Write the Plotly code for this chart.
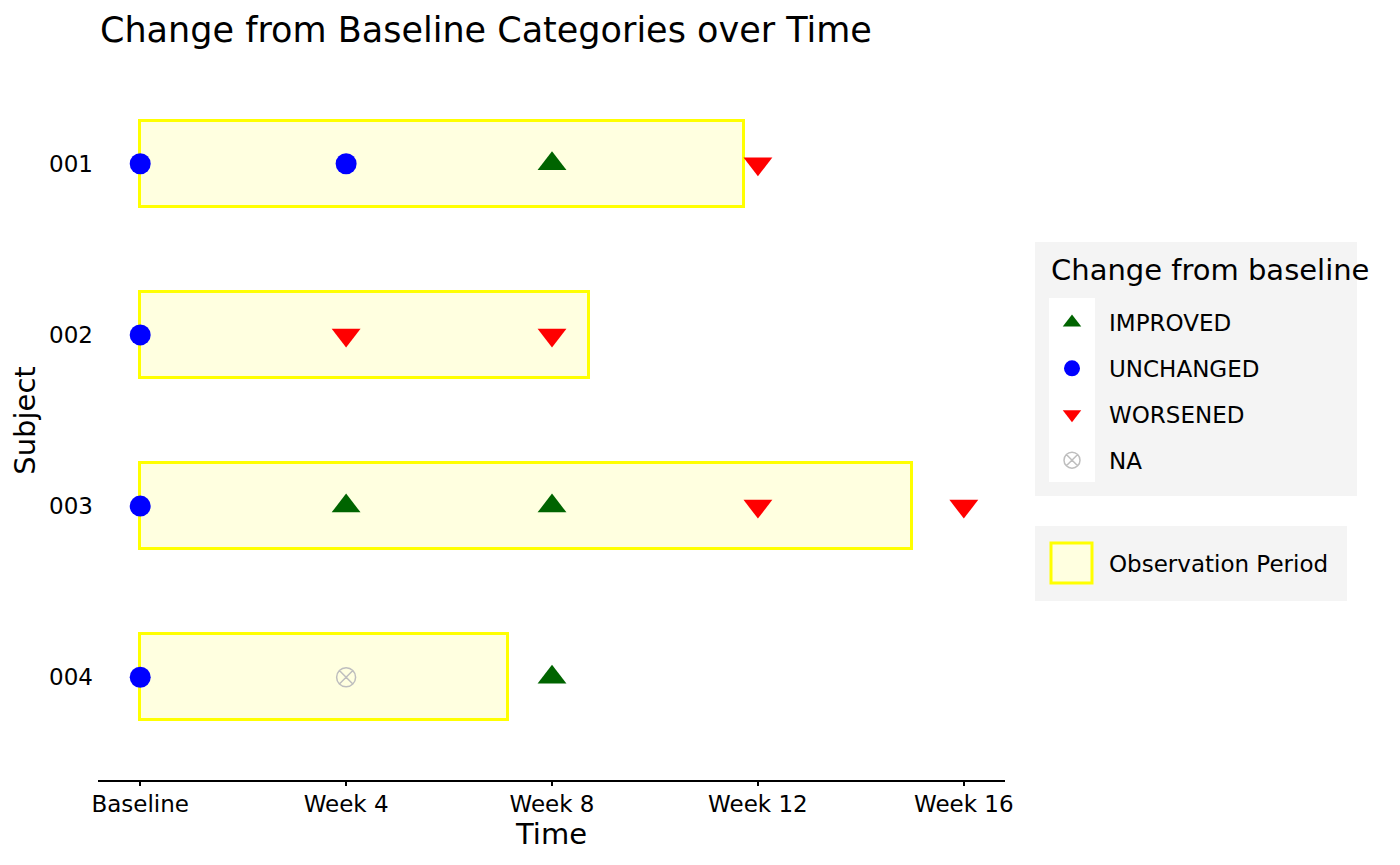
import plotly.graph_objects as go

subjects = ["001", "002", "003", "004"]
obs_end_weeks = [11.72, 8.72, 15.0, 7.15]

visit_labels = ["Baseline", "Week 4", "Week 8", "Week 12", "Week 16"]
visit_weeks = [0, 4, 8, 12, 16]

pt_subject = ["001", "001", "001", "001",
              "002", "002", "002",
              "003", "003", "003", "003", "003",
              "004", "004", "004"]
pt_week = [0, 4, 8, 12,
           0, 4, 8,
           0, 4, 8, 12, 16,
           0, 4, 8]
pt_category = ["UNCHANGED", "UNCHANGED", "IMPROVED", "WORSENED",
               "UNCHANGED", "WORSENED", "WORSENED",
               "UNCHANGED", "IMPROVED", "IMPROVED", "WORSENED", "WORSENED",
               "UNCHANGED", "NA", "IMPROVED"]

categories = ["IMPROVED", "UNCHANGED", "WORSENED", "NA"]
cat_color = {"IMPROVED": "#006400", "UNCHANGED": "#0000FF", "WORSENED": "#FF0000", "NA": "#BEBEBE"}
cat_symbol = {"IMPROVED": "triangle-up", "UNCHANGED": "circle", "WORSENED": "triangle-down", "NA": "circle-x-open"}
cat_size = {"IMPROVED": 25, "UNCHANGED": 21, "WORSENED": 25, "NA": 19}

sub_idx = {s: i for i, s in enumerate(subjects)}

# plot area in screen pixels (page has an 8px offset)
PX0, PX1, PY0, PY1 = 98, 1005, 61, 780


def px(x):
    return (x - PX0) / (PX1 - PX0)


def py(y):
    return (PY1 - y) / (PY1 - PY0)


fig = go.Figure()

fig.add_trace(go.Bar(
    x=obs_end_weeks, y=[sub_idx[s] for s in subjects], base=[0] * len(subjects),
    orientation="h", width=0.5,
    marker=dict(color="#FFFFE0", line=dict(color="#FFFF00", width=3)),
    name="Observation Period", showlegend=False,
))

for c in categories:
    xs = [w for w, cc in zip(pt_week, pt_category) if cc == c]
    ys = [sub_idx[s] for s, cc in zip(pt_subject, pt_category) if cc == c]
    mk = dict(color=cat_color[c], symbol=cat_symbol[c], size=cat_size[c])
    if c == "NA":
        mk["line"] = dict(color=cat_color[c], width=1.5)
    else:
        mk["line"] = dict(width=0)
    fig.add_trace(go.Scatter(
        x=xs, y=ys, mode="markers", marker=mk, name=c,
        legendgroup=c, legend="legend",
    ))

# legend entry for the observation period (key drawn as a larger box below)
fig.add_trace(go.Scatter(
    x=[None], y=[None], mode="markers", name="Observation Period", legend="legend2",
    marker=dict(symbol="square", size=16, color="rgba(0,0,0,0)", line=dict(width=0)),
))

shapes = [
    # legend backgrounds
    dict(type="rect", xref="paper", yref="paper", x0=px(1035), x1=px(1357), y0=py(496), y1=py(242),
         fillcolor="#F4F4F4", line=dict(width=0), layer="above"),
    dict(type="rect", xref="paper", yref="paper", x0=px(1049), x1=px(1095), y0=py(482), y1=py(298),
         fillcolor="white", line=dict(width=0), layer="above"),
    dict(type="rect", xref="paper", yref="paper", x0=px(1035), x1=px(1347), y0=py(601), y1=py(526),
         fillcolor="#F4F4F4", line=dict(width=0), layer="above"),
    dict(type="rect", xref="paper", yref="paper", x0=px(1051), x1=px(1092), y0=py(583), y1=py(543),
         fillcolor="#FFFFE0", line=dict(width=3, color="#FFFF00"), layer="above"),
]

fig.update_layout(
    width=1400, height=865,
    margin=dict(l=PX0 - 8, r=1400 - (PX1 - 8), t=PY0 - 8, b=865 - (PY1 - 8), autoexpand=False),
    plot_bgcolor="white", paper_bgcolor="white",
    font=dict(family="DejaVu Sans", color="black", size=23),
    title=dict(text="Change from Baseline Categories over Time", x=92 / 1400, xanchor="left",
               y=1 - 22 / 865, yanchor="middle", font=dict(size=35, color="black")),
    bargap=0,
    xaxis=dict(
        range=[-0.82, 16.8], tickvals=visit_weeks, ticktext=visit_labels,
        showgrid=False, zeroline=False, showline=True, linecolor="black", linewidth=2,
        ticks="outside", ticklen=4, tickcolor="black", tickwidth=2,
        tickfont=dict(size=23), ticklabelstandoff=-2, automargin=False,
        title=dict(text="Time", font=dict(size=29), standoff=1),
    ),
    yaxis=dict(
        range=[3.6, -0.6], tickvals=list(range(len(subjects))), ticktext=subjects,
        showgrid=False, zeroline=False, showline=False,
        ticks="", ticklabelstandoff=4, automargin=False,
        tickfont=dict(size=23),
        title=dict(text="Subject", font=dict(size=29), standoff=19),
    ),
    shapes=shapes,
    annotations=[dict(text="Change from baseline", xref="paper", yref="paper",
                      x=px(1049), y=py(270), xanchor="left", yanchor="middle",
                      showarrow=False, font=dict(size=29, color="black"))],
    legend=dict(
        x=px(1035), y=py(301), xanchor="left", yanchor="top",
        bgcolor="rgba(0,0,0,0)", font=dict(size=23), tracegroupgap=13,
        borderwidth=0, itemwidth=64,
    ),
    legend2=dict(
        x=px(1035), y=py(542), xanchor="left", yanchor="top",
        bgcolor="rgba(0,0,0,0)", font=dict(size=23), borderwidth=0, itemwidth=64,
    ),
)

fig.write_html("out.html")
